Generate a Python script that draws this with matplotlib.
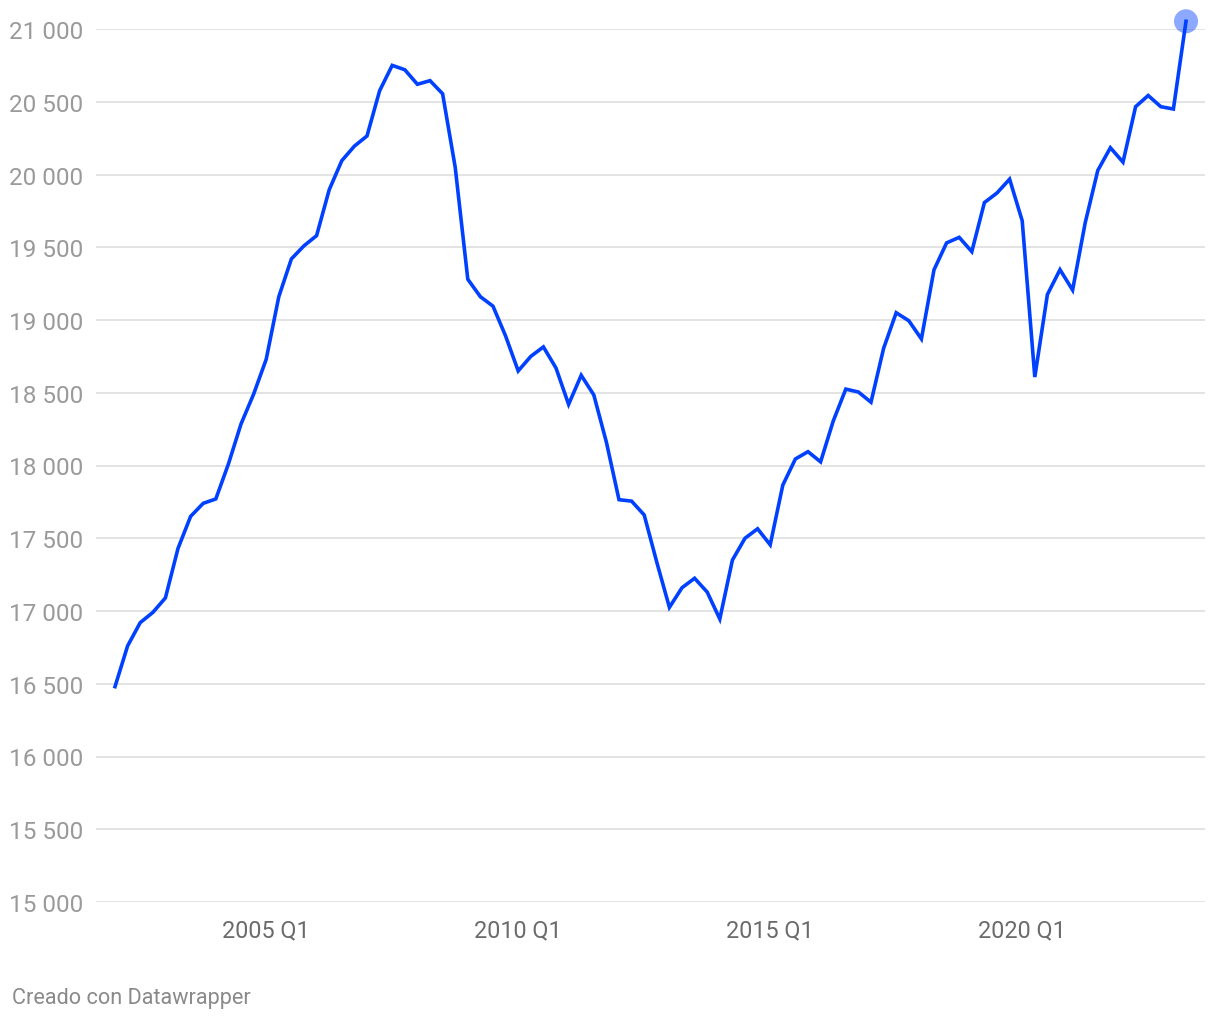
import matplotlib
matplotlib.use("Agg")
import matplotlib.pyplot as plt

plt.rcParams['font.family'] = ['Roboto', 'DejaVu Sans']

years = list(range(2002, 2024))
quarters = [f"{y} Q{q}" for y in years for q in range(1, 5)][:86]

values = [
    16480, 16760, 16920, 16990, 17090, 17430, 17650, 17740, 17770, 18010,
    18285, 18490, 18730, 19160, 19420, 19510, 19580, 19895, 20095, 20195,
    20265, 20575, 20750, 20720, 20620, 20645, 20555, 20050, 19280, 19160,
    19095, 18890, 18650, 18750, 18815, 18670, 18420, 18620, 18485, 18160,
    17765, 17755, 17660, 17335, 17025, 17160, 17225, 17130, 16945, 17350,
    17500, 17565, 17455, 17865, 18045, 18095, 18025, 18305, 18525, 18505,
    18435, 18805, 19050, 18995, 18870, 19345, 19530, 19568, 19470, 19807,
    19873, 19968, 19682, 18608, 19175, 19346, 19206, 19668, 20028, 20184,
    20085, 20466, 20543, 20466, 20450, 21053,
]

y_ticks = [15000, 15500, 16000, 16500, 17000, 17500, 18000, 18500, 19000, 19500, 20000, 20500, 21000]
y_tick_labels = ["15 000", "15 500", "16 000", "16 500", "17 000", "17 500", "18 000",
                 "18 500", "19 000", "19 500", "20 000", "20 500", "21 000"]
x_tick_labels = ["2005 Q1", "2010 Q1", "2015 Q1", "2020 Q1"]

fig = plt.figure(figsize=(12.2, 10.2), dpi=100)
ax = fig.add_axes([96 / 1220, (1020 - 903) / 1020, 1109 / 1220, 873 / 1020])

x = list(range(len(values)))
ax.plot(x, values, color='#0040ff', lw=2.6, solid_joinstyle='miter', zorder=3, clip_on=False)
ax.scatter([x[-1]], [values[-1]], s=300, color='#0040ff', alpha=0.45, edgecolors='none',
           zorder=4, clip_on=False)

ax.set_xlim(-1.508, len(values) - 1 + 1.508)
ax.set_ylim(15000, 21000)

ax.set_yticks(y_ticks)
ax.set_yticklabels(y_tick_labels)
xt = [quarters.index(l) for l in x_tick_labels]
ax.set_xticks(xt)
ax.set_xticklabels(x_tick_labels)

ax.tick_params(axis='y', length=0, pad=9, labelsize=17.5, labelcolor='#9a9a9a')
ax.tick_params(axis='x', length=0, pad=11.5, labelsize=16.8, labelcolor='#6b6b6b')

ax.grid(axis='y', color='#e3e3e3', lw=1.4, zorder=1)
ax.grid(axis='x', visible=False)
for s in ax.spines.values():
    s.set_visible(False)

fig.text(12 / 1220, 1 - 999 / 1020, "Creado con Datawrapper", fontsize=15.6,
         color='#8a8a8a', ha='left', va='center')

fig.savefig("out.png", dpi=100, facecolor='white')
